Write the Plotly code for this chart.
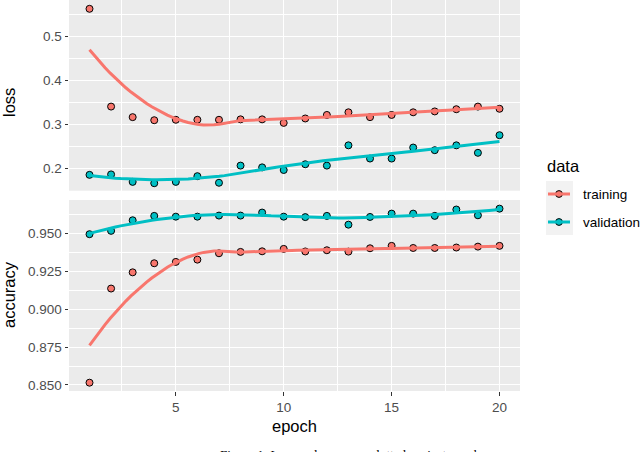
import numpy as np
import plotly.graph_objects as go

epochs = list(range(1, 21))
loss_training = [0.563, 0.341, 0.317, 0.310, 0.311, 0.311, 0.311, 0.312, 0.312, 0.304,
                 0.314, 0.322, 0.328, 0.317, 0.322, 0.328, 0.330, 0.335, 0.341, 0.336]
loss_validation = [0.186, 0.187, 0.170, 0.167, 0.170, 0.183, 0.168, 0.207, 0.203, 0.197,
                   0.210, 0.207, 0.253, 0.223, 0.223, 0.248, 0.242, 0.253, 0.236, 0.276]
acc_training = [0.8515, 0.9137, 0.9244, 0.9304, 0.9313, 0.9328, 0.9370, 0.9379, 0.9383, 0.9399,
                0.9382, 0.9390, 0.9381, 0.9403, 0.9419, 0.9405, 0.9405, 0.9408, 0.9414, 0.9419]
acc_validation = [0.9496, 0.9518, 0.9588, 0.9617, 0.9612, 0.9612, 0.9619, 0.9619, 0.9639, 0.9612,
                  0.9609, 0.9617, 0.9559, 0.9610, 0.9632, 0.9632, 0.9617, 0.9659, 0.9621, 0.9665]

loss_ticks = [0.2, 0.3, 0.4, 0.5]
loss_ticklabels = ["0.2", "0.3", "0.4", "0.5"]
acc_ticks = [0.850, 0.875, 0.900, 0.925, 0.950]
acc_ticklabels = ["0.850", "0.875", "0.900", "0.925", "0.950"]
x_ticks = [5, 10, 15, 20]

series_names = ["training", "validation"]
colors = {"training": "#F8766D", "validation": "#00BFC4"}


def loess(x, y, xs, span=0.75):
    x = np.asarray(x, float)
    y = np.asarray(y, float)
    n = len(x)
    q = int(np.floor(n * span))
    out = []
    for x0 in xs:
        d = np.abs(x - x0)
        dmax = np.sort(d)[q - 1]
        w = np.clip(1 - (d / dmax) ** 3, 0, None) ** 3
        X = np.vstack([np.ones(n), x - x0, (x - x0) ** 2]).T
        A = X.T @ (w[:, None] * X)
        b = X.T @ (w * y)
        beta = np.linalg.solve(A, b)
        out.append(beta[0])
    return np.array(out)


xs = np.linspace(1, 20, 80)

fig = go.Figure()

panels = [
    ("x", "y", {"training": loss_training, "validation": loss_validation}),
    ("x2", "y2", {"training": acc_training, "validation": acc_validation}),
]
for xa, ya, data in panels:
    for name in series_names:
        fig.add_trace(go.Scatter(
            x=epochs, y=data[name], mode="markers", xaxis=xa, yaxis=ya,
            marker=dict(size=7, color=colors[name], line=dict(color="black", width=1)),
            showlegend=False, hoverinfo="skip"))
    for name in series_names:
        fig.add_trace(go.Scatter(
            x=xs, y=loess(epochs, data[name], xs), mode="lines", xaxis=xa, yaxis=ya,
            line=dict(color=colors[name], width=3), showlegend=False, hoverinfo="skip"))

# plot geometry in pixels
W, H = 640, 452
L, R, T, B = 69, 520, 0, 391


def px(xp):
    return (xp - L) / (R - L)


def py(yp):
    return (B - yp) / (B - T)


grid = dict(showgrid=True, gridcolor="white", gridwidth=1.4, zeroline=False,
            showline=False, ticks="outside", ticklen=3.5, tickwidth=1.1, tickcolor="#333333",
            tickfont=dict(family="Liberation Sans", size=13.5, color="#4D4D4D"))

fig.update_layout(
    width=W, height=H,
    margin=dict(l=L, r=W - R, t=T, b=H - B),
    paper_bgcolor="white", plot_bgcolor="#EBEBEB",
    font=dict(family="Liberation Sans", color="black"),
    hovermode=False, dragmode=False,
    xaxis=dict(domain=[0, 1], anchor="y", range=[0.05, 20.95], tickvals=x_ticks,
               showticklabels=False, **{k: v for k, v in grid.items() if k != "ticks"}, ticks="",
               minor=dict(tickvals=[2.5, 7.5, 12.5, 17.5], showgrid=True, gridcolor="white", gridwidth=0.7, ticks="")),
    xaxis2=dict(domain=[0, 1], anchor="y2", matches="x", range=[0.05, 20.95], tickvals=x_ticks,
                ticktext=[str(t) for t in x_ticks],
                title=dict(text="epoch", font=dict(size=16.5, color="black"), standoff=6),
                minor=dict(tickvals=[2.5, 7.5, 12.5, 17.5], showgrid=True, gridcolor="white", gridwidth=0.7, ticks=""),
                **grid),
    yaxis=dict(domain=[py(190.7), 1], anchor="x", range=[0.150, 0.583],
               tickvals=loss_ticks, ticktext=loss_ticklabels,
               minor=dict(tickvals=[0.15, 0.25, 0.35, 0.45, 0.55], showgrid=True, gridcolor="white", gridwidth=0.7, ticks=""),
               **grid),
    yaxis2=dict(domain=[0, py(200)], anchor="x2", range=[0.846, 0.9722],
                tickvals=acc_ticks, ticktext=acc_ticklabels,
                minor=dict(tickvals=[0.8625, 0.8875, 0.9125, 0.9375, 0.9625], showgrid=True, gridcolor="white", gridwidth=0.7, ticks=""),
                **grid),
)

annotations = [
    dict(text="loss", x=px(9), y=py(103), textangle=-90),
    dict(text="accuracy", x=px(9), y=py(295), textangle=-90),
    dict(text="data", x=px(545), y=py(166), xanchor="left"),
    dict(text="training", x=px(580.5), y=py(194), xanchor="left", size=13.5),
    dict(text="validation", x=px(580.5), y=py(222), xanchor="left", size=13.5),
]
for a in annotations:
    size = a.pop("size", 16.5)
    fig.add_annotation(xref="paper", yref="paper", showarrow=False,
                       font=dict(family="Liberation Sans", size=size, color="black"),
                       yanchor="middle", **({"xanchor": "center"} | a))

fig.add_annotation(xref="paper", yref="paper", showarrow=False,
                   text="Figure 1: Loss and accuracy plotted against epoch",
                   x=px(350), y=py(444.5), xanchor="center", yanchor="top",
                   font=dict(family="Liberation Serif", size=13, color="black"))

# legend keys
fig.add_shape(type="rect", xref="paper", yref="paper", x0=px(546), x1=px(573),
              y0=py(235), y1=py(181), fillcolor="#F2F2F2", line=dict(width=0), layer="below")
for name, yk in zip(series_names, [194, 222]):
    fig.add_shape(type="circle", xref="paper", yref="paper", xsizemode="pixel", ysizemode="pixel",
                  xanchor=px(559), yanchor=py(yk), x0=-3.4, x1=3.4, y0=-3.4, y1=3.4,
                  fillcolor=colors[name], line=dict(color="black", width=1))
    fig.add_shape(type="line", xref="paper", yref="paper", x0=px(548), x1=px(570),
                  y0=py(yk), y1=py(yk), line=dict(color=colors[name], width=3))

fig.write_html(
    "out.html", config={"displayModeBar": False},
    post_script="document.body.style.margin='0';document.body.style.overflow='hidden';")
